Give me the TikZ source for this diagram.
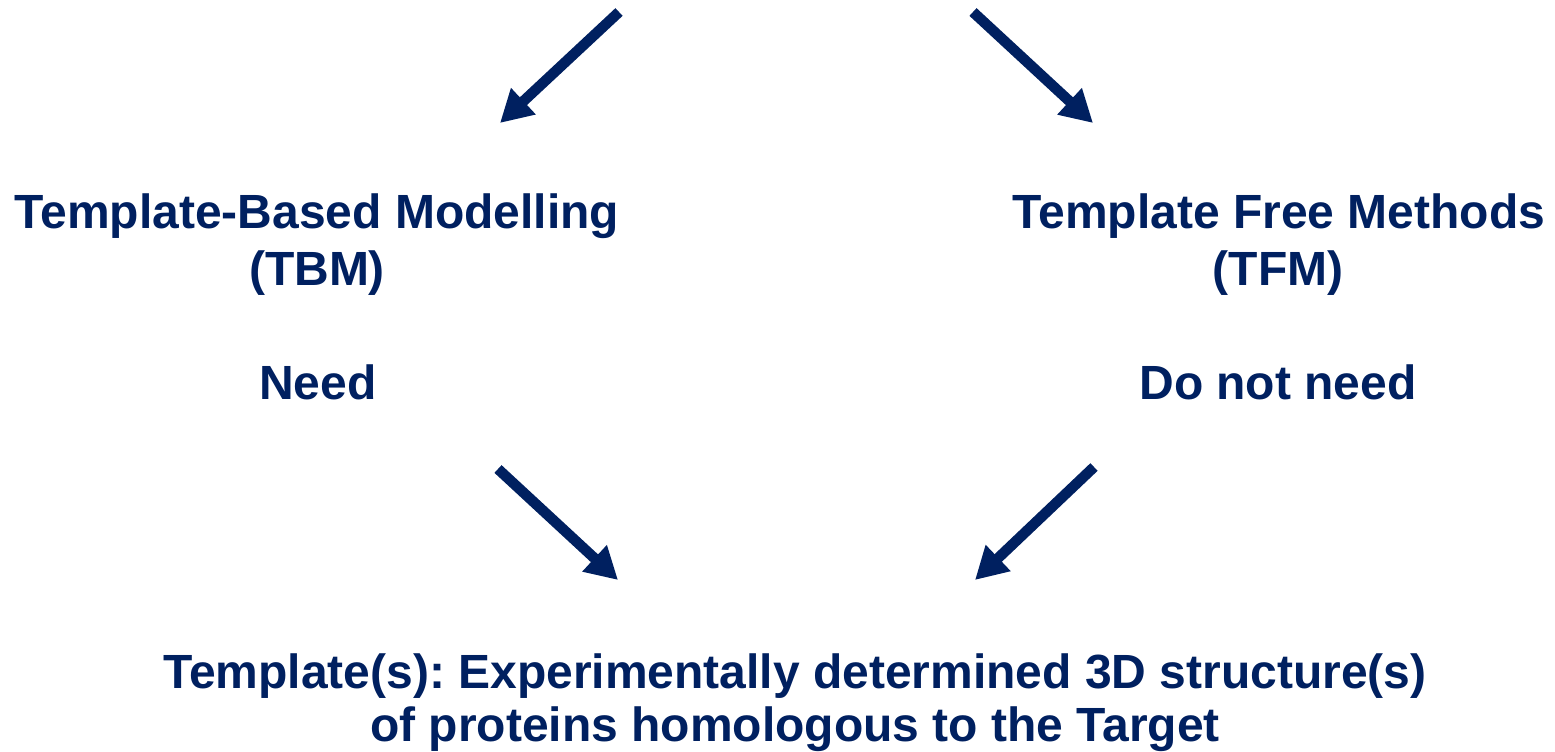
\documentclass[tikz,border=0pt]{standalone}
\usepackage{fontspec}
\setmainfont{Liberation Sans}
\usetikzlibrary{arrows.meta}
\definecolor{navy}{HTML}{002060}
\frenchspacing
\begin{document}
\begin{tikzpicture}[x=1pt,y=-1pt,
  label text/.style={text=navy,font=\fontsize{48}{56}\selectfont\bfseries,inner sep=0pt,anchor=base},
  flow arrow/.style={draw=navy,line width=10.5pt,-{Triangle[length=32pt,width=34pt]}}]
\useasboundingbox (0,0) rectangle (1555,752);
% left branch: template-based modelling
\node[label text] (tbm1) at (317,228) {Template-Based Modelling};
\node[label text] (tbm2) at (317,285) {(TBM)};
\node[label text] (need) at (318,399) {Need};
% right branch: template free methods
\node[label text] (tfm1) at (1279,228) {Template Free Methods};
\node[label text] (tfm2) at (1278,285) {(TFM)};
\node[label text] (noneed) at (1278,399) {Do not need};
% bottom: definition of a template
\node[label text] (tpl1) at (795,688) {Template(s): Experimentally determined 3D structure(s)};
\node[label text] (tpl2) at (795,741) {of proteins homologous to the Target};
% arrow end points
\coordinate (a1s) at (619,12);  \coordinate (a1e) at (500,123);
\coordinate (a2s) at (973,12);  \coordinate (a2e) at (1093,123);
\coordinate (a3s) at (498,469); \coordinate (a3e) at (618,580);
\coordinate (a4s) at (1094,467); \coordinate (a4e) at (975,580);
\draw[flow arrow] (a1s) -- (a1e);
\draw[flow arrow] (a2s) -- (a2e);
\draw[flow arrow] (a3s) -- (a3e);
\draw[flow arrow] (a4s) -- (a4e);
\end{tikzpicture}
\end{document}
